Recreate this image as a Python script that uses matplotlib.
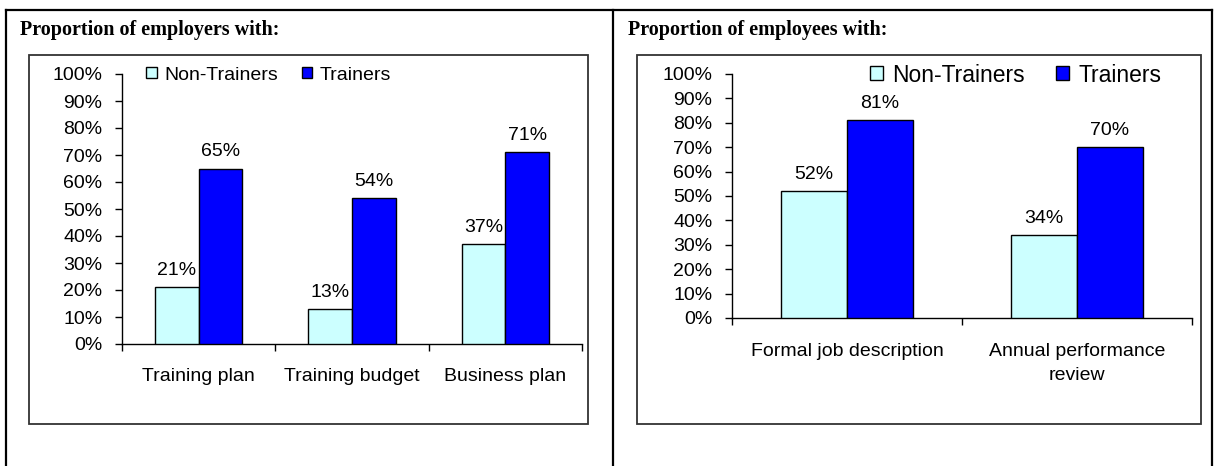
import matplotlib
matplotlib.use("Agg")
import matplotlib.pyplot as plt
from matplotlib.patches import Patch, Rectangle
from matplotlib.lines import Line2D
from matplotlib.ticker import FixedLocator, PercentFormatter

# Data
employer_categories = ["Training plan", "Training budget", "Business plan"]
employer_non_trainers = [21, 13, 37]
employer_trainers = [65, 54, 71]

employee_categories = ["Formal job description", "Annual performance\nreview"]
employee_non_trainers = [52, 34]
employee_trainers = [81, 70]

series_names = ["Non-Trainers", "Trainers"]
series_colors = ["#CCFFFF", "#0000FF"]
y_ticks = list(range(0, 101, 10))

W, H = 1217, 466
fig = plt.figure(figsize=(W / 100, H / 100), dpi=100)
fig.patch.set_facecolor("white")

SANS = ["Liberation Sans", "DejaVu Sans"]
SERIF = ["Liberation Serif", "DejaVu Serif"]
FS = 14


def fx(px):
    return px / W


def fy(py):
    return 1 - py / H


# Table grid lines
for x in (6, 613, 1212):
    fig.add_artist(Line2D([fx(x), fx(x)], [fy(10), 0], color="black", lw=1.6,
                          transform=fig.transFigure))
fig.add_artist(Line2D([fx(6), fx(1212)], [fy(10), fy(10)], color="black", lw=1.6,
                      transform=fig.transFigure))

# Section headings
fig.text(fx(20), fy(30), "Proportion of employers with:", family=SERIF,
         weight="bold", fontsize=14.5, va="center", ha="left")
fig.text(fx(628), fy(30), "Proportion of employees with:", family=SERIF,
         weight="bold", fontsize=14.5, va="center", ha="left")

# Chart frames
for x0, x1 in ((29, 588), (637, 1201)):
    fig.add_artist(Rectangle((fx(x0), fy(424)), fx(x1) - fx(x0), fy(55) - fy(424),
                             transform=fig.transFigure, fill=False,
                             edgecolor="#333333", lw=1.3))


def draw_panel(rect, categories, non_vals, tr_vals, legend_anchor, legend_fs,
               colspace, pad, linespacing):
    ax = fig.add_axes(rect)
    n = len(categories)
    w = 1 / 3.5
    xs = list(range(n))
    for i, (vals, color) in enumerate(zip((non_vals, tr_vals), series_colors)):
        offs = [x + (i - 0.5) * w for x in xs]
        bars = ax.bar(offs, [v / 100 for v in vals], width=w, color=color,
                      edgecolor="black", linewidth=1.0, zorder=3)
        for b, v in zip(bars, vals):
            ax.annotate(f"{v}%", (b.get_x() + b.get_width() / 2, b.get_height()),
                        xytext=(0, 6), textcoords="offset points", ha="center",
                        va="bottom", family=SANS, fontsize=FS)
    ax.set_xlim(-0.5, n - 0.5)
    ax.set_ylim(0, 1)
    ax.yaxis.set_major_locator(FixedLocator([t / 100 for t in y_ticks]))
    ax.yaxis.set_major_formatter(PercentFormatter(1.0, decimals=0))
    ax.set_xticks(xs)
    ax.set_xticklabels(categories, family=SANS, fontsize=FS,
                       linespacing=linespacing)
    ax.xaxis.set_minor_locator(FixedLocator([x - 0.5 for x in range(n + 1)]))
    ax.tick_params(axis="x", which="major", length=0, pad=pad)
    ax.tick_params(axis="x", which="minor", length=5, width=1, direction="out")
    ax.tick_params(axis="y", length=5, width=1, direction="out", pad=9)
    for lab in ax.get_yticklabels():
        lab.set_family(SANS)
        lab.set_fontsize(FS)
    for s in ("top", "right"):
        ax.spines[s].set_visible(False)
    for s in ("left", "bottom"):
        ax.spines[s].set_linewidth(1.0)
    handles = [Patch(facecolor=c, edgecolor="black", linewidth=1.0, label=l)
               for c, l in zip(series_colors, series_names)]
    fig.legend(handles=handles, loc="center left", bbox_to_anchor=legend_anchor,
               bbox_transform=fig.transFigure, ncol=2, frameon=False,
               prop={"family": SANS, "size": legend_fs}, handlelength=0.55,
               handleheight=0.55, handletextpad=0.4, columnspacing=colspace,
               borderpad=0, borderaxespad=0)
    return ax


draw_panel([fx(122), fy(344), fx(582) - fx(122), fy(74) - fy(344)],
           employer_categories, employer_non_trainers, employer_trainers,
           (fx(146), fy(75)), 14, 1.2, 17, 1.35)
draw_panel([fx(732), fy(318), fx(1192) - fx(732), fy(74) - fy(318)],
           employee_categories, employee_non_trainers, employee_trainers,
           (fx(870), fy(75)), 16.5, 1.4, 18, 1.5)

fig.savefig("out.png", dpi=100, facecolor="white")
